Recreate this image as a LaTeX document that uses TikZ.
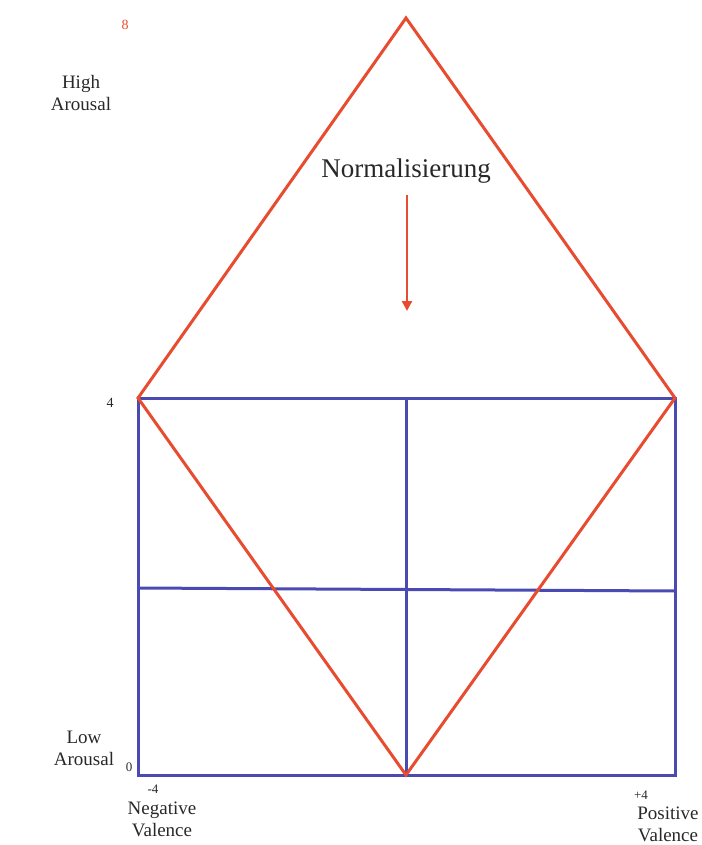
\documentclass[tikz,border=0pt]{standalone}
\usepackage{fontspec}
\setmainfont{Liberation Serif}
\usetikzlibrary{arrows.meta}
\definecolor{rred}{RGB}{232,76,48}
\definecolor{bblue}{RGB}{74,74,178}
\definecolor{txt}{RGB}{40,40,40}
\tikzset{
  redline/.style={draw=rred, line width=3pt},
  blueline/.style={draw=bblue, line width=3pt},
  lbl/.style={text=txt, font=\fontsize{19}{22}\selectfont, align=center, inner sep=0pt},
  num/.style={text=txt, font=\fontsize{13}{14}\selectfont, inner sep=0pt}
}
\begin{document}
\begin{tikzpicture}[x=1pt,y=-1pt]
\useasboundingbox (0,0) rectangle (701,845);
% corners
\coordinate (top) at (406,18);
\coordinate (tl) at (138,398);
\coordinate (tr) at (675,398);
\coordinate (bl) at (138,775);
\coordinate (br) at (675,775);
\coordinate (bm) at (406,775);
\coordinate (tm) at (406,398);
\coordinate (ml) at (138,588);
\coordinate (mr) at (675,591);
% blue grid
\draw[blueline] (tl) rectangle (br);
\draw[blueline] (tm) -- (bm);
\draw[blueline] (ml) -- (mr);
% red diamond
\draw[redline, line join=miter] (top) -- (tr) -- (bm) -- (tl) -- cycle;
% arrow
\coordinate (as) at (407,195);
\coordinate (ae) at (407,311);
\draw[rred, line width=2.4pt, -{Triangle[length=10pt,width=10pt]}] (as) -- (ae);
% texts
\node[text=txt, font=\fontsize{27}{30}\selectfont, inner sep=0pt] (norm) at (406,171) {Normalisierung};
\node[text=rred, font=\fontsize{14}{15}\selectfont, inner sep=0pt] (n8) at (125,25) {8};
\node[lbl] (high) at (81,93) {High\\Arousal};
\node[num, font=\fontsize{14}{15}\selectfont] (n4) at (110,403) {4};
\node[lbl] (low) at (84,748) {Low\\Arousal};
\node[num] (n0) at (129,767) {0};
\node[num] (nm4) at (153,789) {-4};
\node[lbl] (neg) at (162,819) {Negative\\Valence};
\node[num] (np4) at (641,795) {+4};
\node[lbl] (pos) at (668,824) {Positive\\Valence};
\end{tikzpicture}
\end{document}
